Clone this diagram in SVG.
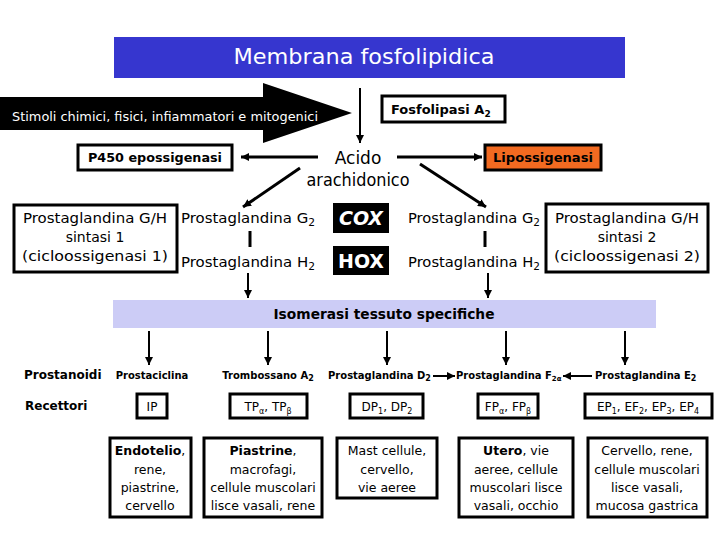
<svg xmlns="http://www.w3.org/2000/svg" width="720" height="540" viewBox="0 0 720 540">
<defs>
<marker id="ah" viewBox="0 0 10 10" refX="10" refY="5" markerWidth="8" markerHeight="8" markerUnits="userSpaceOnUse" orient="auto"><path d="M0,0 L10,5 L0,10 z" fill="#000"/></marker>
<style>
text{font-family:"DejaVu Sans","Liberation Sans",sans-serif;fill:#000}
.b{font-weight:bold}
.w{fill:#fff}
.box{fill:#fff;stroke:#000;stroke-width:3}
.ln{stroke:#000;stroke-width:2;fill:none}
.tk{stroke:#000;stroke-width:3;fill:none}
.m{text-anchor:middle}
.s15{font-size:14px}
.s11{font-size:10px;font-weight:bold}
.r{font-size:12px}
.t{font-size:12.5px}
</style>
</defs>
<rect width="720" height="540" fill="#fff"/>
<g id="membrana">
<rect x="114" y="37" width="511" height="41" fill="#3636cf"/>
<text class="w m" x="364" y="64" font-size="21" textLength="261" lengthAdjust="spacingAndGlyphs">Membrana fosfolipidica</text>
</g>
<g id="stimoli">
<polygon points="0,97 263,97 263,83 352,113 263,143 263,130 0,130" fill="#000"/>
<text class="w" x="12" y="121" font-size="13" textLength="306" lengthAdjust="spacingAndGlyphs">Stimoli chimici, fisici, infiammatori e mitogenici</text>
</g>
<g id="fosfolipasi">
<rect class="box" x="382" y="96" width="123" height="26"/>
<text class="b" x="391" y="114" font-size="13">Fosfolipasi A<tspan font-size="9" dy="3">2</tspan></text>
</g>
<g id="p450">
<rect class="box" x="78" y="145" width="154" height="25"/>
<text class="b m" x="155" y="162" font-size="13" textLength="134" lengthAdjust="spacingAndGlyphs">P450 epossigenasi</text>
</g>
<g id="acido">
<text class="m" x="358" y="164" font-size="17">Acido</text>
<text class="m" x="358" y="186" font-size="17" textLength="103" lengthAdjust="spacingAndGlyphs">arachidonico</text>
</g>
<g id="lipossigenasi">
<rect x="485" y="145" width="116" height="25" fill="#f26a21" stroke="#000" stroke-width="3"/>
<text class="b m" x="543" y="162" font-size="13" textLength="100" lengthAdjust="spacingAndGlyphs">Lipossigenasi</text>
</g>
<g id="sintasi1">
<rect class="box" x="14" y="205" width="163" height="67"/>
<text class="m s15" x="95" y="223" textLength="144" lengthAdjust="spacingAndGlyphs">Prostaglandina G/H</text>
<text class="m s15" x="95" y="242">sintasi 1</text>
<text class="m s15" x="95" y="261" textLength="146" lengthAdjust="spacingAndGlyphs">(cicloossigenasi 1)</text>
</g>
<g id="pg-left">
<text class="s15" x="181" y="223" textLength="134" lengthAdjust="spacingAndGlyphs">Prostaglandina G<tspan font-size="10" dy="3">2</tspan></text>
<text class="s15" x="181" y="267" textLength="134" lengthAdjust="spacingAndGlyphs">Prostaglandina H<tspan font-size="10" dy="3">2</tspan></text>
</g>
<g id="cox">
<rect x="333" y="203" width="56" height="30" fill="#000"/>
<text class="w b m" x="361" y="225" font-size="19" font-style="italic">COX</text>
</g>
<g id="hox">
<rect x="333" y="246" width="56" height="29" fill="#000"/>
<text class="w b m" x="361" y="268" font-size="19">HOX</text>
</g>
<g id="pg-right">
<text class="s15" x="408" y="223" textLength="132" lengthAdjust="spacingAndGlyphs">Prostaglandina G<tspan font-size="10" dy="3">2</tspan></text>
<text class="s15" x="408" y="267" textLength="132" lengthAdjust="spacingAndGlyphs">Prostaglandina H<tspan font-size="10" dy="3">2</tspan></text>
</g>
<g id="sintasi2">
<rect class="box" x="546" y="204" width="162" height="68"/>
<text class="m s15" x="627" y="223" textLength="144" lengthAdjust="spacingAndGlyphs">Prostaglandina G/H</text>
<text class="m s15" x="627" y="242">sintasi 2</text>
<text class="m s15" x="627" y="261" textLength="146" lengthAdjust="spacingAndGlyphs">(cicloossigenasi 2)</text>
</g>
<g id="isomerasi">
<rect x="113" y="300" width="543" height="28" fill="#ccccf6"/>
<text class="b m" x="384" y="319" font-size="14" textLength="221" lengthAdjust="spacingAndGlyphs">Isomerasi tessuto specifiche</text>
</g>
<g id="labels">
<text class="b" x="24" y="379" font-size="12">Prostanoidi</text>
<text class="b" x="25" y="410" font-size="12">Recettori</text>
</g>
<g id="prostaciclina"><text class="s11 m" x="152" y="379">Prostaciclina</text></g>
<g id="trombossano"><text class="s11 m" x="268" y="379">Trombossano A<tspan font-size="8" dy="2">2</tspan></text></g>
<g id="pgd2"><text class="s11" x="328" y="379">Prostaglandina D<tspan font-size="8" dy="2">2</tspan></text></g>
<g id="pgf2a"><text class="s11" x="456" y="379">Prostaglandina F<tspan font-size="7" dy="2">2α</tspan></text></g>
<g id="pge2"><text class="s11" x="595" y="379">Prostaglandina E<tspan font-size="8" dy="2">2</tspan></text></g>
<g id="rec-ip"><rect class="box" x="137" y="394" width="30" height="24"/><text class="r m" x="152" y="411">IP</text></g>
<g id="rec-tp"><rect class="box" x="230" y="394" width="77" height="24"/><text class="r m" x="268" y="411">TP<tspan font-size="8" dy="3">α</tspan><tspan dy="-3">, TP</tspan><tspan font-size="8" dy="3">β</tspan></text></g>
<g id="rec-dp"><rect class="box" x="350" y="394" width="73" height="24"/><text class="r m" x="387" y="411">DP<tspan font-size="8" dy="3">1</tspan><tspan dy="-3">, DP</tspan><tspan font-size="8" dy="3">2</tspan></text></g>
<g id="rec-fp"><rect class="box" x="478" y="394" width="60" height="24"/><text class="r m" x="508" y="411">FP<tspan font-size="8" dy="3">α</tspan><tspan dy="-3">, FP</tspan><tspan font-size="8" dy="3">β</tspan></text></g>
<g id="rec-ep"><rect class="box" x="585" y="394" width="127" height="24"/><text class="r m" x="648" y="411">EP<tspan font-size="8" dy="3">1</tspan><tspan dy="-3">, EF</tspan><tspan font-size="8" dy="3">2</tspan><tspan dy="-3">, EP</tspan><tspan font-size="8" dy="3">3</tspan><tspan dy="-3">, EP</tspan><tspan font-size="8" dy="3">4</tspan></text></g>
<g id="tess-endotelio"><rect class="box" x="110" y="438" width="81" height="79"/>
<text class="t m" x="150" y="455"><tspan class="b">Endotelio</tspan>,</text>
<text class="t m" x="150" y="474">rene,</text>
<text class="t m" x="150" y="492">piastrine,</text>
<text class="t m" x="150" y="510">cervello</text></g>
<g id="tess-piastrine"><rect class="box" x="204" y="438" width="118" height="79"/>
<text class="t m" x="263" y="455"><tspan class="b">Piastrine</tspan>,</text>
<text class="t m" x="263" y="474">macrofagi,</text>
<text class="t m" x="263" y="492">cellule muscolari</text>
<text class="t m" x="263" y="510">lisce vasali, rene</text></g>
<g id="tess-mast"><rect class="box" x="337" y="438" width="100" height="60"/>
<text class="t m" x="387" y="455">Mast cellule,</text>
<text class="t m" x="387" y="474">cervello,</text>
<text class="t m" x="387" y="492">vie aeree</text></g>
<g id="tess-utero"><rect class="box" x="459" y="438" width="114" height="79"/>
<text class="t m" x="516" y="455"><tspan class="b">Utero</tspan>, vie</text>
<text class="t m" x="516" y="474">aeree, cellule</text>
<text class="t m" x="516" y="492">muscolari lisce</text>
<text class="t m" x="516" y="510">vasali, occhio</text></g>
<g id="tess-cervello"><rect class="box" x="588" y="438" width="119" height="79"/>
<text class="t m" x="647" y="455">Cervello, rene,</text>
<text class="t m" x="647" y="474">cellule muscolari</text>
<text class="t m" x="647" y="492">lisce vasali,</text>
<text class="t m" x="647" y="510">mucosa gastrica</text></g>
<g id="connectors">
<line class="ln" x1="360" y1="88" x2="360" y2="143" marker-end="url(#ah)"/>
<line class="tk" x1="318" y1="157" x2="241" y2="157" marker-end="url(#ah)"/>
<line class="tk" x1="397" y1="157" x2="482" y2="157" marker-end="url(#ah)"/>
<line class="tk" x1="300" y1="168" x2="243" y2="207" marker-end="url(#ah)"/>
<line class="tk" x1="420" y1="164" x2="486" y2="207" marker-end="url(#ah)"/>
<line class="tk" x1="250" y1="231" x2="250" y2="247"/>
<line class="tk" x1="485" y1="231" x2="485" y2="247"/>
<line class="ln" x1="248" y1="273" x2="248" y2="298" marker-end="url(#ah)"/>
<line class="ln" x1="488" y1="273" x2="488" y2="298" marker-end="url(#ah)"/>
<line class="ln" x1="149" y1="331" x2="149" y2="365" marker-end="url(#ah)"/>
<line class="ln" x1="268" y1="331" x2="268" y2="365" marker-end="url(#ah)"/>
<line class="ln" x1="387" y1="331" x2="387" y2="365" marker-end="url(#ah)"/>
<line class="ln" x1="506" y1="331" x2="506" y2="365" marker-end="url(#ah)"/>
<line class="ln" x1="625" y1="331" x2="625" y2="365" marker-end="url(#ah)"/>
<line class="ln" x1="433" y1="376" x2="455" y2="376" marker-end="url(#ah)"/>
<line class="ln" x1="592" y1="376" x2="563" y2="376" marker-end="url(#ah)"/>
</g>
</svg>
